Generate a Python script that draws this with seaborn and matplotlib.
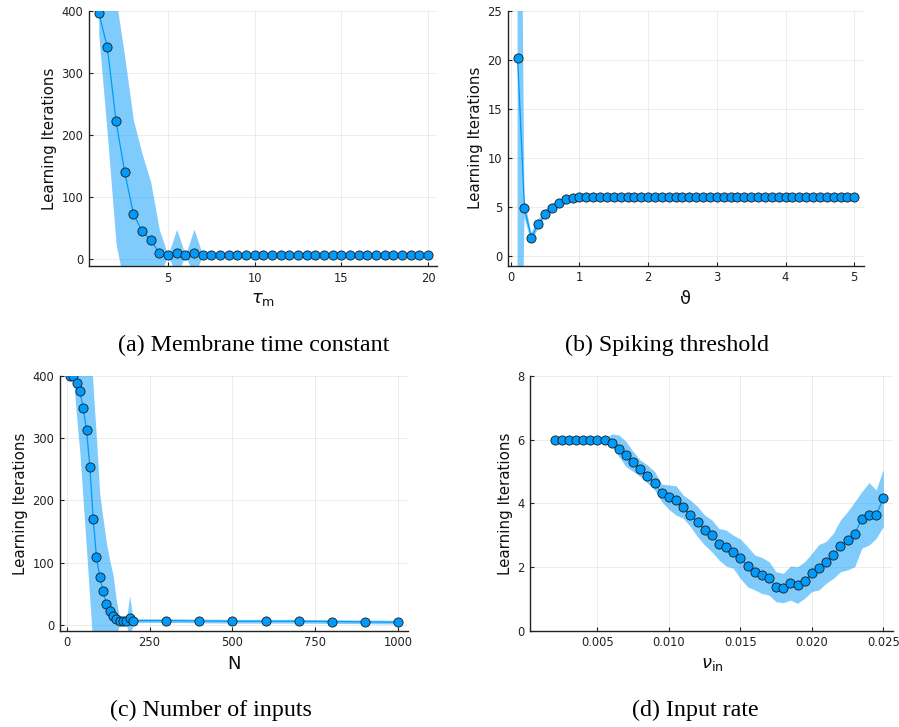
import matplotlib
matplotlib.use("Agg")
import matplotlib.pyplot as plt
import seaborn as sns
from matplotlib.ticker import FormatStrFormatter

# ---------------- data ----------------
# (a) membrane time constant
a_x = [1, 1.5, 2, 2.5, 3, 3.5, 4, 4.5, 5, 5.5, 6, 6.5, 7, 7.5, 8, 8.5, 9, 9.5, 10,
       10.5, 11, 11.5, 12, 12.5, 13, 13.5, 14, 14.5, 15, 15.5, 16, 16.5, 17, 17.5,
       18, 18.5, 19, 19.5, 20]
a_mean = [397, 341, 222, 140, 73, 45, 30, 10, 6, 10, 6, 10, 6, 6, 6, 6, 6, 6, 6,
          6, 6, 6, 6, 6, 6, 6, 6, 6, 6, 6, 6, 6, 6, 6, 6, 6, 6, 6, 6]
a_lo = [362, 200, 25, -46, -78, -80, -64, -27, 6, -28, 6, -28, 6, 6, 6, 6, 6, 6, 6,
        6, 6, 6, 6, 6, 6, 6, 6, 6, 6, 6, 6, 6, 6, 6, 6, 6, 6, 6, 6]
a_hi = [432, 482, 419, 326, 224, 170, 124, 47, 6, 48, 6, 48, 6, 6, 6, 6, 6, 6, 6,
        6, 6, 6, 6, 6, 6, 6, 6, 6, 6, 6, 6, 6, 6, 6, 6, 6, 6, 6, 6]

# (b) spiking threshold
b_x = [0.1, 0.2, 0.3, 0.4, 0.5, 0.6, 0.7, 0.8, 0.9, 1.0, 1.1, 1.2, 1.3, 1.4, 1.5,
       1.6, 1.7, 1.8, 1.9, 2.0, 2.1, 2.2, 2.3, 2.4, 2.5, 2.6, 2.7, 2.8, 2.9, 3.0,
       3.1, 3.2, 3.3, 3.4, 3.5, 3.6, 3.7, 3.8, 3.9, 4.0, 4.1, 4.2, 4.3, 4.4, 4.5,
       4.6, 4.7, 4.8, 4.9, 5.0]
b_mean = [20.2, 4.86, 1.87, 3.23, 4.25, 4.89, 5.37, 5.81, 5.94, 6.0, 6.0, 6.0, 6.0,
          6.0, 6.0, 6.0, 6.0, 6.0, 6.0, 6.0, 6.0, 6.0, 6.0, 6.0, 6.0, 6.0, 6.0, 6.0,
          6.0, 6.0, 6.0, 6.0, 6.0, 6.0, 6.0, 6.0, 6.0, 6.0, 6.0, 6.0, 6.0, 6.0, 6.0,
          6.0, 6.0, 6.0, 6.0, 6.0, 6.0, 6.0]
b_lo = [-43, 3.9, 1.4, 2.8, 3.85, 4.5, 5.0, 5.6, 5.85, 6.0, 6.0, 6.0, 6.0,
        6.0, 6.0, 6.0, 6.0, 6.0, 6.0, 6.0, 6.0, 6.0, 6.0, 6.0, 6.0, 6.0, 6.0, 6.0,
        6.0, 6.0, 6.0, 6.0, 6.0, 6.0, 6.0, 6.0, 6.0, 6.0, 6.0, 6.0, 6.0, 6.0, 6.0,
        6.0, 6.0, 6.0, 6.0, 6.0, 6.0, 6.0]
b_hi = [83.5, 5.8, 2.35, 3.65, 4.65, 5.28, 5.72, 5.98, 6.02, 6.0, 6.0, 6.0, 6.0,
        6.0, 6.0, 6.0, 6.0, 6.0, 6.0, 6.0, 6.0, 6.0, 6.0, 6.0, 6.0, 6.0, 6.0, 6.0,
        6.0, 6.0, 6.0, 6.0, 6.0, 6.0, 6.0, 6.0, 6.0, 6.0, 6.0, 6.0, 6.0, 6.0, 6.0,
        6.0, 6.0, 6.0, 6.0, 6.0, 6.0, 6.0]

# (c) number of inputs
c_x = [10, 20, 30, 40, 50, 60, 70, 80, 90, 100, 110, 120, 130, 140, 150, 160, 170,
       180, 190, 200, 300, 400, 500, 600, 700, 800, 900, 1000]
c_mean = [400, 400, 388, 376, 348, 313, 254, 171, 109, 77, 54, 34, 22.5, 14, 9.6, 7,
          6, 6, 10.7, 7, 7, 6.5, 6, 6, 6, 5.5, 5, 4.5]
c_lo = [400, 400, 335, 276, 198, 120, 40, -40, -81, -56, -62, -63, -59, -52, -20, 4,
        3, 3, -26, 4, 4, 3.5, 3, 3, 3, 2.5, 2, 1.5]
c_hi = [400, 400, 441, 476, 498, 506, 468, 382, 299, 210, 170, 131, 104, 80, 39, 10,
        9, 9, 47, 10, 10, 9.5, 9, 9, 9, 8.5, 8, 7.5]

# (d) input rate
d_x = [0.002, 0.0025, 0.003, 0.0035, 0.004, 0.0045, 0.005, 0.0055, 0.006, 0.0065,
       0.007, 0.0075, 0.008, 0.0085, 0.009, 0.0095, 0.010, 0.0105, 0.011, 0.0115,
       0.012, 0.0125, 0.013, 0.0135, 0.014, 0.0145, 0.015, 0.0155, 0.016, 0.0165,
       0.017, 0.0175, 0.018, 0.0185, 0.019, 0.0195, 0.020, 0.0205, 0.021, 0.0215,
       0.022, 0.0225, 0.023, 0.0235, 0.024, 0.0245, 0.025]
d_mean = [6, 6, 6, 6, 6, 6, 6, 6, 5.91, 5.72, 5.51, 5.30, 5.07, 4.86, 4.63, 4.32,
          4.21, 4.10, 3.87, 3.64, 3.41, 3.16, 3.01, 2.71, 2.62, 2.46, 2.29, 2.04,
          1.85, 1.74, 1.66, 1.38, 1.33, 1.51, 1.43, 1.57, 1.80, 1.98, 2.15, 2.37,
          2.67, 2.84, 3.05, 3.51, 3.64, 3.63, 4.17]
d_lo = [6, 6, 6, 6, 6, 6, 6, 6, 5.8, 5.47, 5.15, 5.0, 4.84, 4.63, 4.42, 4.05, 3.81,
        3.63, 3.53, 3.27, 2.95, 2.69, 2.48, 2.22, 2.03, 1.96, 1.64, 1.38, 1.28, 1.17,
        1.12, 0.91, 0.88, 0.96, 0.86, 1.02, 1.23, 1.28, 1.49, 1.64, 1.85, 1.91, 2.01,
        2.59, 2.69, 2.9, 3.27]
d_hi = [6, 6, 6, 6, 6, 6, 6, 6.02, 6.18, 6.15, 5.94, 5.62, 5.36, 5.2, 5.0, 4.6, 4.58,
        4.55, 4.26, 4.1, 3.9, 3.63, 3.48, 3.21, 3.16, 3.0, 2.88, 2.64, 2.38, 2.30,
        2.17, 1.85, 1.8, 2.03, 2.01, 2.17, 2.43, 2.71, 2.8, 3.06, 3.48, 3.74, 4.05,
        4.37, 4.65, 4.42, 5.07]

x_labels = [r"$\tau_\mathrm{m}$", "ϑ", "N", r"$\nu_\mathrm{in}$"]
y_label = "Learning Iterations"
captions = ["(a) Membrane time constant", "(b) Spiking threshold",
            "(c) Number of inputs", "(d) Input rate"]

# ---------------- style ----------------
sns.set_theme(style="white")
plt.rcParams["font.family"] = ["DejaVu Sans"]
plt.rcParams["mathtext.fontset"] = "dejavusans"

COLOR = "#009AFA"
W, H = 899, 727
fig = plt.figure(figsize=(W / 100, H / 100), dpi=100)


def make_ax(l, r, t, b):
    return fig.add_axes([l / W, 1 - b / H, (r - l) / W, (b - t) / H])


panels = [
    dict(ax=make_ax(89, 437, 10.7, 266), x=a_x, m=a_mean, lo=a_lo, hi=a_hi,
         xlim=(0.44, 20.52), ylim=(-11.3, 400), xt=[5, 10, 15, 20],
         yt=[0, 100, 200, 300, 400], fmt=None),
    dict(ax=make_ax(507.7, 864.3, 10.7, 265.7), x=b_x, m=b_mean, lo=b_lo, hi=b_hi,
         xlim=(-0.044, 5.146), ylim=(-1.0, 25), xt=[0, 1, 2, 3, 4, 5],
         yt=[0, 5, 10, 15, 20, 25], fmt=None),
    dict(ax=make_ax(60, 408.3, 376, 630.7), x=c_x, m=c_mean, lo=c_lo, hi=c_hi,
         xlim=(-20, 1030), ylim=(-9.2, 400), xt=[0, 250, 500, 750, 1000],
         yt=[0, 100, 200, 300, 400], fmt=None),
    dict(ax=make_ax(530.3, 893.3, 376, 630.7), x=d_x, m=d_mean, lo=d_lo, hi=d_hi,
         xlim=(0.0003, 0.0257), ylim=(0, 8), xt=[0.005, 0.010, 0.015, 0.020, 0.025],
         yt=[0, 2, 4, 6, 8], fmt="%.3f"),
]

for i, p in enumerate(panels):
    ax = p["ax"]
    ax.fill_between(p["x"], p["lo"], p["hi"], color=COLOR, alpha=0.5,
                    linewidth=0, zorder=1)
    sns.lineplot(x=p["x"], y=p["m"], ax=ax, color=COLOR, linewidth=0.9,
                 marker="o", markersize=6.6, markerfacecolor=COLOR,
                 markeredgecolor="#1a1a1a", markeredgewidth=0.6,
                 errorbar=None, sort=False, zorder=3)
    ax.set_xlim(*p["xlim"])
    ax.set_ylim(*p["ylim"])
    ax.set_xticks(p["xt"])
    ax.set_yticks(p["yt"])
    if p["fmt"]:
        ax.xaxis.set_major_formatter(FormatStrFormatter(p["fmt"]))
    ax.grid(True, color="black", alpha=0.07, linewidth=0.7)
    ax.set_axisbelow(True)
    for s in ("top", "right"):
        ax.spines[s].set_visible(False)
    for s in ("left", "bottom"):
        ax.spines[s].set_color("#222222")
        ax.spines[s].set_linewidth(1.0)
    ax.tick_params(direction="in", length=3, width=0.8, colors="#222222",
                   labelsize=8.3, pad=4, left=True, bottom=True)
    ax.set_xlabel(x_labels[i], fontsize=13, color="#111111", labelpad=4)
    ax.set_ylabel(y_label, fontsize=10.8, color="#111111", labelpad=3)

cap_pos = [(254, 345), (667, 345), (211, 710), (695, 710)]
for (cx, cy), txt in zip(cap_pos, captions):
    fig.text(cx / W, 1 - cy / H, txt, ha="center", va="center",
             family="Liberation Serif", fontsize=17.3, color="black")

fig.savefig("out.png", dpi=100)
